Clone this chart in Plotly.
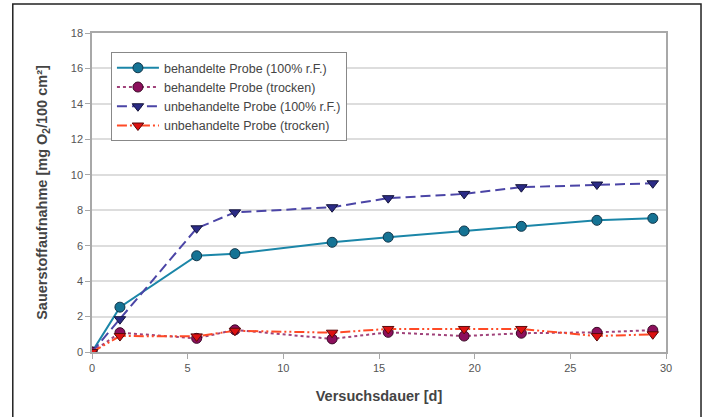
import plotly.graph_objects as go

days = [0, 1.46, 5.47, 7.47, 12.55, 15.48, 19.45, 22.44, 26.39, 29.31]
beh_feucht = [0, 2.53, 5.43, 5.55, 6.19, 6.48, 6.83, 7.09, 7.43, 7.54]
beh_trocken = [0, 1.09, 0.77, 1.25, 0.74, 1.11, 0.90, 1.06, 1.11, 1.23]
unbeh_feucht = [0, 1.85, 6.98, 7.88, 8.17, 8.68, 8.92, 9.30, 9.45, 9.52]
unbeh_trocken = [0, 0.90, 0.88, 1.20, 1.09, 1.30, 1.30, 1.30, 0.90, 1.00]

names = ["behandelte Probe (100% r.F.)", "behandelte Probe (trocken)",
         "unbehandelte Probe (100% r.F.)", "unbehandelte Probe (trocken)"]

x_ticks = [0, 5, 10, 15, 20, 25, 30]
y_ticks = [0, 2, 4, 6, 8, 10, 12, 14, 16, 18]

FONT = "Liberation Sans, Arial, sans-serif"

fig = go.Figure()
fig.add_trace(go.Scatter(
    x=days, y=beh_feucht, name=names[0], mode="lines+markers",
    line=dict(color="#1b86a8", width=2, dash="solid"),
    marker=dict(symbol="circle", size=10, color="#157394", line=dict(color="#12364a", width=1))))
fig.add_trace(go.Scatter(
    x=days, y=beh_trocken, name=names[1], mode="lines+markers",
    line=dict(color="#a0427a", width=2, dash="dot"),
    marker=dict(symbol="circle", size=10, color="#8c0f5c", line=dict(color="#3a0a26", width=1))))
fig.add_trace(go.Scatter(
    x=days, y=unbeh_feucht, name=names[2], mode="lines+markers",
    line=dict(color="#4b45a6", width=2, dash="10px,5px"),
    marker=dict(symbol="triangle-down", size=10, color="#2b2b86", line=dict(color="#14143a", width=1))))
fig.add_trace(go.Scatter(
    x=days, y=unbeh_trocken, name=names[3], mode="lines+markers",
    line=dict(color="#ff4a26", width=2, dash="10px,3px,2px,3px,2px,3px"),
    marker=dict(symbol="triangle-down", size=10, color="#dd1111", line=dict(color="#5a0a0a", width=1))))

fig.update_layout(
    width=710, height=417,
    margin=dict(l=92, r=44, t=33, b=65, autoexpand=False),
    paper_bgcolor="white", plot_bgcolor="white",
    font=dict(family=FONT, size=11, color="#555555"),
    showlegend=True,
    legend=dict(
        x=0.033, y=0.94, xanchor="left", yanchor="top",
        bgcolor="white", bordercolor="#888888", borderwidth=1,
        font=dict(family=FONT, size=12.5, color="#444444"),
        tracegroupgap=0, itemwidth=42,
    ),
    xaxis=dict(
        range=[0, 30], tickvals=x_ticks, ticktext=[str(v) for v in x_ticks],
        showgrid=False, zeroline=False, automargin=False,
        showline=True, linecolor="#a8a8a8", linewidth=1.5, mirror=True,
        ticks="outside", ticklen=5, tickcolor="#a8a8a8",
        tickfont=dict(family=FONT, size=11, color="#555555"),
        title=dict(text="<b>Versuchsdauer [d]</b>", standoff=18,
                   font=dict(family=FONT, size=14.5, color="#444444")),
    ),
    yaxis=dict(
        range=[0, 18], tickvals=y_ticks, ticktext=[str(v) for v in y_ticks],
        showgrid=True, gridcolor="#dddddd", gridwidth=1.5, zeroline=False, automargin=False,
        showline=True, linecolor="#a8a8a8", linewidth=1.5, mirror=True,
        ticks="outside", ticklen=5, tickcolor="#a8a8a8",
        tickfont=dict(family=FONT, size=11, color="#555555"),
        title=dict(text="<b>Sauerstoffaufnahme [mg O<sub>2</sub>/100 cm²]</b>", standoff=20,
                   font=dict(family=FONT, size=14.5, color="#444444")),
    ),
    shapes=[dict(type="rect", xref="paper", yref="paper",
                 x0=-0.138, x1=1.061, y0=-0.30, y1=1.091,
                 line=dict(color="#222222", width=1.5), layer="below")],
)

fig.write_html("out.html", config={"displayModeBar": False},
               post_script="document.body.style.margin='0';")
